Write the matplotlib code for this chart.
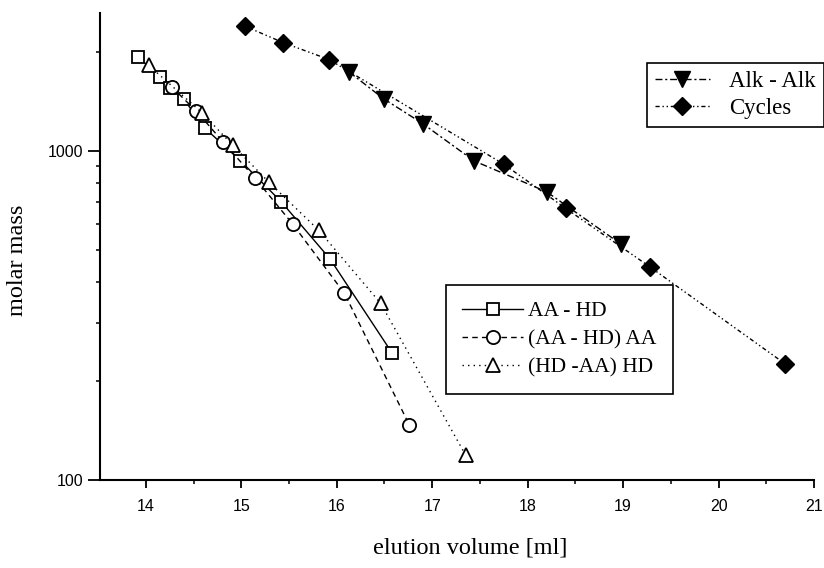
import matplotlib
matplotlib.use('Agg')
import matplotlib.pyplot as plt
from matplotlib.ticker import LogLocator, FixedLocator, FixedFormatter, MultipleLocator, NullFormatter
import numpy as np

# elution volume [ml] / molar mass for each series
aa_hd_v = [13.92, 14.15, 14.25, 14.40, 14.62, 14.99, 15.42, 15.93, 16.58]
aa_hd_m = [1926, 1675, 1549, 1431, 1170, 933, 699, 469, 243]

aa_hd_aa_v = [14.27, 14.53, 14.81, 15.14, 15.54, 16.08, 16.76]
aa_hd_aa_m = [1563, 1318, 1063, 828, 598, 369, 147]

hd_aa_hd_v = [14.03, 14.59, 14.91, 15.29, 15.81, 16.46, 17.35]
hd_aa_hd_m = [1817, 1303, 1039, 802, 574, 344, 119]

alk_v = [16.13, 16.49, 16.90, 17.44, 18.20, 18.98]
alk_m = [1734, 1439, 1209, 931, 750, 520]

cyc_v = [15.04, 15.44, 15.92, 17.75, 18.40, 19.28, 20.70]
cyc_m = [2388, 2129, 1892, 910, 668, 444, 225]

x_ticks = [14, 15, 16, 17, 18, 19, 20, 21]
y_ticks = [100, 1000]
y_tick_labels = ['100', '1000']

serif = 'Liberation Serif'
sans = 'Liberation Sans'

fig = plt.figure(figsize=(8.24, 5.68), dpi=100)
ax = fig.add_axes([0.1214, 0.1549, 0.8665, 0.8222])

open_kw = dict(color='black', markerfacecolor='white', markeredgecolor='black',
               markeredgewidth=1.3, linewidth=1.0)
l1, = ax.plot(aa_hd_v, aa_hd_m, marker='s', markersize=9, linestyle='-',
              label='AA - HD', **open_kw)
l2, = ax.plot(aa_hd_aa_v, aa_hd_aa_m, marker='o', markersize=9.5,
              linestyle=(0, (4, 3)), label='(AA - HD) AA', **open_kw)
l3, = ax.plot(hd_aa_hd_v, hd_aa_hd_m, marker='^', markersize=10,
              linestyle=(0, (1, 3)), label='(HD -AA) HD', **open_kw)

l4, = ax.plot(alk_v, alk_m, marker='v', markersize=12, color='black',
              linewidth=1.0, linestyle=(0, (5, 2, 1.5, 2)), label='Alk - Alk')
l5, = ax.plot(cyc_v, cyc_m, marker='D', markersize=9, color='black',
              linewidth=1.0, linestyle=(0, (3, 2, 1, 2, 1, 2)), label='Cycles')

ax.set_yscale('log')
ax.set_xlim(13.52, 21)
ax.set_ylim(100, 2620)

ax.xaxis.set_major_locator(FixedLocator(x_ticks))
ax.xaxis.set_minor_locator(MultipleLocator(0.5))
ax.yaxis.set_major_locator(FixedLocator(y_ticks))
ax.yaxis.set_major_formatter(FixedFormatter(y_tick_labels))
ax.yaxis.set_minor_locator(LogLocator(base=10, subs=np.arange(2, 10)))
ax.yaxis.set_minor_formatter(NullFormatter())

for side in ['top', 'right']:
    ax.spines[side].set_visible(False)
for side in ['left', 'bottom']:
    ax.spines[side].set_linewidth(1.5)

ax.tick_params(axis='x', which='major', direction='out', length=6, width=1.3, pad=8)
ax.tick_params(axis='x', which='minor', direction='out', length=3, width=1.1)
ax.tick_params(axis='y', which='major', direction='out', length=9, width=1.3, pad=3)
ax.tick_params(axis='y', which='minor', direction='out', length=3, width=1.1)
for lab in ax.get_xticklabels() + ax.get_yticklabels():
    lab.set_fontfamily(sans)
    lab.set_fontsize(11.5)

ax.set_xlabel('elution volume [ml]', fontfamily=serif, fontsize=17.5, va='center')
ax.set_ylabel('molar mass', fontfamily=serif, fontsize=17.5, va='center')
ax.xaxis.set_label_coords(0.519, -0.1456)
ax.yaxis.set_label_coords(-0.116, 0.471)

leg1 = ax.legend(handles=[l4, l5], loc='upper left',
                 bbox_to_anchor=(0.785, 0.889), bbox_transform=fig.transFigure,
                 borderaxespad=0, prop={'family': serif, 'size': 16.5},
                 handlelength=2.4, handletextpad=0.85, borderpad=0.35,
                 labelspacing=0.25, fancybox=False, framealpha=1,
                 edgecolor='black')
leg1.get_frame().set_linewidth(1.2)
ax.add_artist(leg1)

leg2 = ax.legend(handles=[l1, l2, l3], loc='upper left',
                 bbox_to_anchor=(0.541, 0.498), bbox_transform=fig.transFigure,
                 borderaxespad=0, prop={'family': serif, 'size': 15.5},
                 handlelength=2.85, handletextpad=0.23, borderpad=0.75,
                 labelspacing=0.37, fancybox=False, framealpha=1,
                 edgecolor='black')
leg2.get_frame().set_linewidth(1.2)

fig.savefig('out.png', dpi=100)
